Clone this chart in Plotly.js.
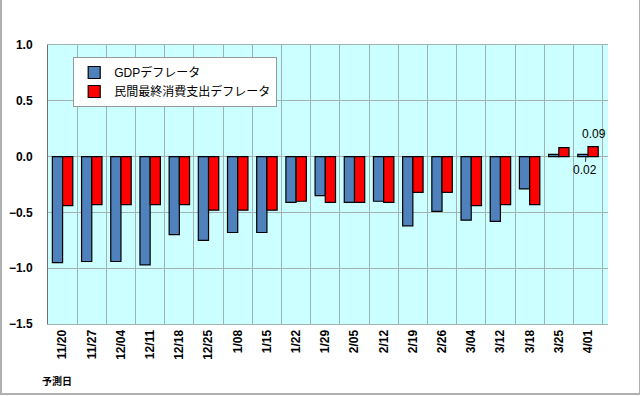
<!DOCTYPE html>
<html>
<head>
<meta charset="utf-8">
<script src="https://cdn.plot.ly/plotly-3.0.1.min.js"></script>
<style>
  html, body { margin: 0; padding: 0; background: #fff; }
  #wrap { position: relative; width: 640px; height: 396px; }
  #chart { width: 640px; height: 396px; }
  #frame { position: absolute; left: 0; top: 0; width: 637px; height: 393px;
           border-left: 2px solid #b0b0b0; border-right: 1px solid #b0b0b0; border-bottom: 2px solid #b0b0b0;
           pointer-events: none; box-sizing: content-box; }
</style>
</head>
<body>
<div id="wrap"><div id="chart"></div><div id="frame"></div></div>
<script>
const categories = ["11/20","11/27","12/04","12/11","12/18","12/25","1/08","1/15","1/22","1/29","2/05","2/12","2/19","2/26","3/04","3/12","3/18","3/25","4/01"];
const gdpDeflator = [-0.95,-0.94,-0.94,-0.97,-0.70,-0.75,-0.68,-0.68,-0.41,-0.35,-0.41,-0.40,-0.62,-0.49,-0.57,-0.58,-0.29,0.02,0.02];
const pceDeflator = [-0.44,-0.43,-0.43,-0.43,-0.43,-0.48,-0.48,-0.48,-0.40,-0.41,-0.41,-0.41,-0.32,-0.32,-0.44,-0.43,-0.43,0.08,0.09];
const seriesNames = ["GDPデフレータ","民間最終消費支出デフレータ"];
const yTicks = [-1.5,-1.0,-0.5,0.0,0.5,1.0];
const xAxisNote = "予測日";

const FONT = "'Liberation Sans', Arial, 'Noto Sans CJK JP', sans-serif";
const last = categories.length - 1;

const traces = [
  { type: "bar", name: seriesNames[0], x: categories, y: gdpDeflator,
    marker: { color: "#4F81BD", line: { color: "#000", width: 1.2 } } },
  { type: "bar", name: seriesNames[1], x: categories, y: pceDeflator,
    marker: { color: "#FF0000", line: { color: "#000", width: 1.2 } } }
];

const layout = {
  width: 640, height: 396,
  margin: { l: 48, r: 32, t: 45, b: 72, autoexpand: false },
  paper_bgcolor: "rgba(0,0,0,0)",
  plot_bgcolor: "#CCFFFF",
  font: { family: FONT, color: "#000" },
  barmode: "group",
  bargap: 0.3,
  bargroupgap: 0,
  showlegend: true,
  legend: {
    x: 0.045, y: 0.957, xanchor: "left", yanchor: "top",
    bgcolor: "#fff", bordercolor: "#999", borderwidth: 1,
    font: { size: 12, family: FONT }, tracegroupgap: 2, itemwidth: 30
  },
  xaxis: {
    type: "category",
    automargin: false,
    tickson: "boundaries",
    showgrid: true, gridcolor: "#9fb3b3", gridwidth: 1,
    tickangle: -90,
    tickfont: { size: 12, family: FONT, weight: "bold" },
    ticks: "outside", ticklen: 10, tickcolor: "rgba(0,0,0,0)",
    showline: true, linecolor: "#9fb3b3", mirror: true,
    zeroline: false
  },
  yaxis: {
    automargin: false,
    range: [-1.5, 1.0],
    tickvals: yTicks,
    tickformat: ".1f",
    tickfont: { size: 12, family: FONT, weight: "bold" },
    ticks: "outside", ticklen: 12, tickcolor: "rgba(0,0,0,0)",
    showgrid: true, gridcolor: "#9fb3b3", gridwidth: 1,
    zeroline: true, zerolinecolor: "#9fb3b3", zerolinewidth: 1,
    showline: true, linecolor: "#707070", linewidth: 1
  },
  annotations: [
    { x: categories[last], y: pceDeflator[last], xref: "x", yref: "y",
      xanchor: "left", yanchor: "bottom",
      text: pceDeflator[last].toFixed(2), showarrow: false,
      xshift: -8, yshift: 4, font: { size: 12, family: FONT } },
    { x: categories[last], y: gdpDeflator[last], xref: "x", yref: "y",
      text: gdpDeflator[last].toFixed(2), showarrow: true, arrowhead: 0, arrowwidth: 0.8,
      arrowcolor: "#000", ax: -1, ay: 16, xshift: -2, standoff: 2,
      font: { size: 12, family: FONT } },
    { x: -0.015, y: -0.205, xref: "paper", yref: "paper", xanchor: "left", yanchor: "middle",
      text: xAxisNote, showarrow: false, font: { size: 10, family: FONT, weight: "bold" } }
  ]
};

Plotly.newPlot("chart", traces, layout, { displayModeBar: false, staticPlot: true });
</script>
</body>
</html>
